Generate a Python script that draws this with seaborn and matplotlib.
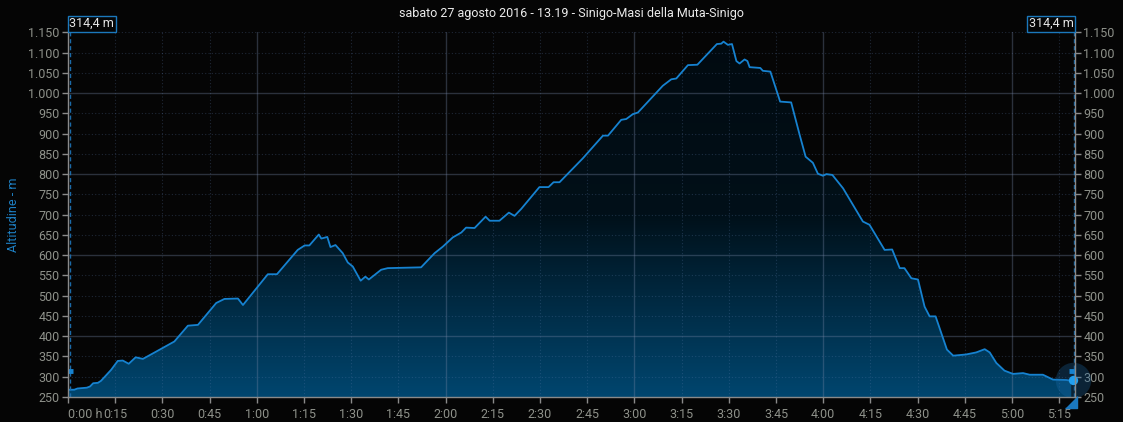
import numpy as np
import matplotlib
matplotlib.use("Agg")
import matplotlib.pyplot as plt
import seaborn as sns
from matplotlib.colors import LinearSegmentedColormap
from matplotlib.transforms import offset_copy

minutes = [0, 2, 3, 6, 7, 8, 9.5, 10.5, 13.7, 15.8, 17.4, 19.3, 21.5, 23.8, 28, 33.8,
           38.1, 41.3, 47.1, 49.7, 54, 55.6, 63.5, 66.4, 73, 75.2, 76.7, 79.7, 80.5,
           82.4, 83.4, 85, 87.3, 88.9, 90.5, 93, 94.5, 95.6, 99.5, 101.6, 112.2, 114.4,
           116.5, 119.1, 122.3, 125, 126.5, 129.2, 132.7, 134, 137.1, 140.1, 141.9, 144,
           149.8, 152.7, 154.3, 156.2, 163.6, 170, 171.6, 175.8, 177.4, 179.5, 181.1,
           189, 191.7, 193.3, 197, 200, 206.2, 207.6, 208.3, 209.7, 211, 212.4, 213.4,
           215, 215.9, 216.6, 220, 220.8, 223.2, 226.3, 229.8, 232.5, 234.4, 236.7,
           238.3, 239.9, 241, 242.9, 246.3, 252.6, 254.7, 259.5, 261.9, 264.3, 265.8,
           268, 270.1, 272.2, 273.8, 275.7, 279.3, 281.3, 285.4, 288.6, 291.3, 292.9,
           295, 297.6, 300.3, 303.5, 305.6, 309.8, 313, 317.2, 318.8]
altitude = [268, 268, 271, 273, 276, 284, 285, 290, 317, 339, 340, 332, 348, 344, 362, 387,
            426, 428, 482, 492, 493, 477, 553, 553, 613, 624, 624, 651, 641,
            645, 620, 625, 605, 582, 572, 537, 547, 540, 564, 568, 570, 588,
            605, 621, 644, 656, 668, 667, 695, 685, 685, 705, 697, 714,
            768, 768, 780, 780, 839, 895, 895, 934, 936, 948, 952,
            1018, 1034, 1036, 1069, 1070, 1121, 1122, 1127, 1119, 1121, 1079, 1073,
            1083, 1079, 1064, 1062, 1055, 1053, 979, 977, 897, 843, 828,
            801, 796, 800, 798, 765, 683, 675, 613, 614, 568, 568,
            543, 540, 473, 449, 449, 367, 352, 355, 360, 368, 360,
            334, 315, 307, 309, 305, 305, 293, 292, 290]

x_ticks = list(range(0, 316, 15))
x_labels = ["0:00 h"] + [f"{m // 60}:{m % 60:02d}" for m in x_ticks[1:]]
y_ticks = list(range(250, 1151, 50))
y_labels = [f"{v:,}".replace(",", ".") for v in y_ticks]

title = "sabato 27 agosto 2016 - 13.19 - Sinigo-Masi della Muta-Sinigo"
cursor_label = "314,4 m"
cursor_alt = 314.4

bg = "#050505"
line_col = "#1682d0"
tick_col = "#8e918a"
fs = 9

sns.set_style("dark")
plt.rcParams["font.family"] = ["Roboto", "DejaVu Sans"]

fig = plt.figure(figsize=(11.23, 4.22), dpi=100, facecolor=bg)
ax = fig.add_axes([68 / 1123, 1 - 397 / 422, (1075 - 68) / 1123, (397 - 32.3) / 422])
ax.set_facecolor(bg)
ax.set_xlim(0, 320)
ax.set_ylim(250, 1150)

# riempimento sfumato sotto il profilo
cmap = LinearSegmentedColormap.from_list("fill", ["#00466f", "#011019", "#020a10"])
grad = np.linspace(0, 1, 256).reshape(-1, 1)
img = ax.imshow(grad, extent=[0, 320, 250, 1150], origin="lower", aspect="auto",
                cmap=cmap, zorder=1)
poly = ax.fill_between(minutes, altitude, 250, color="none", lw=0)
img.set_clip_path(poly.get_paths()[0], transform=ax.transData)

# griglia
for v in y_ticks[1:]:
    if v % 200 == 0:
        ax.axhline(v, color="#7484a4", alpha=0.35, lw=1, zorder=2)
    else:
        ax.axhline(v, color="#5a78a8", alpha=0.3, lw=0.8, ls=(0, (1, 2)), zorder=2)
for m in x_ticks[1:]:
    if m % 60 == 0:
        ax.axvline(m, color="#7484a4", alpha=0.35, lw=1, zorder=2)
    else:
        ax.axvline(m, color="#5a78a8", alpha=0.3, lw=0.8, ls=(0, (1, 2)), zorder=2)

sns.lineplot(x=minutes, y=altitude, ax=ax, color=line_col, lw=1.3, zorder=4)

# cursori
ax.axvline(0.5, color="#1b6aa8", lw=1, ls=(0, (3, 2)), zorder=5)
ax.axvline(319.6, color="#1b6aa8", lw=1, ls=(0, (3, 2)), zorder=5)
ax.plot([0, 1.6], [cursor_alt, cursor_alt], color=line_col, lw=3.5,
        solid_capstyle="butt", clip_on=False, zorder=6)
ax.plot([318.2, 320], [cursor_alt, cursor_alt], color=line_col, lw=3.5,
        solid_capstyle="butt", clip_on=False, zorder=6)
ax.scatter([319.3], [293], s=650, color="#1a6aa8", alpha=0.3, lw=0, zorder=5, clip_on=False)
ax.scatter([319.3], [293], s=45, color="#22a0f0", lw=0, zorder=6, clip_on=False)
tri = offset_copy(ax.transData, fig=fig, x=-2, y=-5, units="dots")
ax.plot([319.5], [250], marker=[(-1, -1), (1, -1), (1, 1)], ms=8, color="#1a78c0",
        transform=tri, clip_on=False, zorder=6)

box = dict(boxstyle="square,pad=0.12", fc=bg, ec="#1b78bc", lw=1)
ax.annotate(cursor_label, xy=(0, 1150), xytext=(1, 1.5), textcoords="offset points",
            ha="left", va="bottom", fontsize=fs, color="#e6e6e6", bbox=box, zorder=7,
            annotation_clip=False)
ax.annotate(cursor_label, xy=(320, 1150), xytext=(-1, 1.5), textcoords="offset points",
            ha="right", va="bottom", fontsize=fs, color="#e6e6e6", bbox=box, zorder=7,
            annotation_clip=False)

# assi
for side in ["left", "bottom", "right"]:
    ax.spines[side].set_visible(True)
    ax.spines[side].set_color("#8a8a8a")
    ax.spines[side].set_linewidth(1)
    ax.spines[side].set_zorder(6)
ax.spines["top"].set_visible(False)

ax.set_xticks(x_ticks)
ax.set_xticklabels(x_labels)
ax.set_yticks(y_ticks)
ax.set_yticklabels(y_labels)
ax.xaxis.get_ticklabels()[0].set_horizontalalignment("left")
ax.tick_params(axis="both", which="major", direction="out", length=4, width=1,
               color="#8a8a8a", labelcolor=tick_col, labelsize=fs, pad=2)
ax.tick_params(axis="y", left=True, right=True, labelleft=True, labelright=True)
ax.tick_params(axis="x", bottom=True, pad=4)
ax.grid(False)

ax.set_ylabel("Altitudine - m", color="#1e80c4", fontsize=fs)
ax.yaxis.set_label_coords(-48 / 1007, 0.5)
ax.set_xlabel("")
ax.set_title(title, color="#ececec", fontsize=fs, pad=11)

plt.savefig("out.png", dpi=100, facecolor=bg)
